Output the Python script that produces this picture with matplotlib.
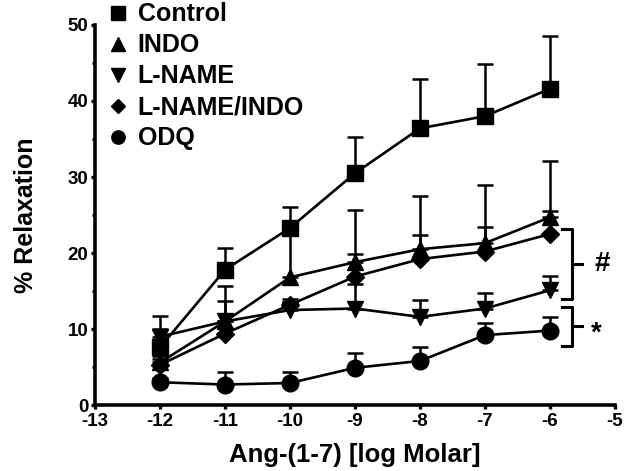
import numpy as np
import matplotlib
matplotlib.use("Agg")
import matplotlib.pyplot as plt

plt.rcParams['font.family'] = ['Liberation Sans', 'DejaVu Sans']
plt.rcParams['font.weight'] = 'bold'
plt.rcParams['axes.unicode_minus'] = False

# log molar concentrations
conc = [-12, -11, -10, -9, -8, -7, -6]

# mean % relaxation and upper SEM cap for each group
control = [7.6, 17.8, 23.3, 30.5, 36.4, 38.0, 41.6]
control_top = [11.7, 20.6, 26.0, 35.2, 42.9, 44.9, 48.6]

indo = [5.6, 11.0, 16.8, 18.8, 20.5, 21.3, 24.7]
indo_top = [6.5, 15.6, 23.0, 25.6, 27.5, 29.0, 32.1]

lname = [9.0, 11.0, 12.5, 12.7, 11.6, 12.7, 15.1]
lname_top = [10.0, 13.7, 13.5, 15.9, 13.8, 14.7, 17.0]

lname_indo = [5.3, 9.4, 13.2, 16.9, 19.2, 20.2, 22.5]
lname_indo_top = [6.0, 10.2, 14.0, 19.9, 22.4, 23.4, 25.5]

odq = [3.0, 2.7, 2.9, 4.9, 5.8, 9.2, 9.8]
odq_top = [3.5, 4.3, 4.3, 6.9, 7.6, 10.8, 11.6]

series = [
    ("Control", control, control_top, "s"),
    ("INDO", indo, indo_top, "^"),
    ("L-NAME", lname, lname_top, "v"),
    ("L-NAME/INDO", lname_indo, lname_indo_top, "D"),
    ("ODQ", odq, odq_top, "o"),
]
msizes = {"s": 12, "^": 12, "v": 12, "D": 9, "o": 12}

fig = plt.figure(figsize=(6.3, 4.71), dpi=100)
ax = fig.add_axes([0.151, 0.140, 0.825, 0.807])

handles = []
for name, mean, top, mk in series:
    mean = np.array(mean)
    up = np.array(top) - mean
    ax.errorbar(conc, mean, yerr=[np.zeros_like(up), up], color='black',
                marker=mk, markersize=msizes[mk], linewidth=1.9,
                elinewidth=1.8, capsize=6, capthick=1.8)
    # legend shows the marker only
    handles.append(ax.plot([], [], linestyle='none', marker=mk, color='black',
                           markersize=msizes[mk] * 0.8)[0])

# significance brackets (y range in % relaxation)
hash_span = [13.9, 23.1]
star_span = [7.8, 12.9]
bx = -5.66
for (lo, hi), sym, sx, dy in [(hash_span, "#", -5.2, 0),
                              (star_span, "*", -5.28, -1.0)]:
    mid = (lo + hi) / 2
    ax.plot([bx - 0.16, bx, bx, bx - 0.16], [hi, hi, lo, lo], color='black',
            lw=2.2, clip_on=False, solid_joinstyle='round')
    ax.plot([bx, bx + 0.15], [mid, mid], color='black', lw=2.2, clip_on=False)
    ax.text(sx, mid + dy, sym, fontsize=20, fontweight='bold',
            ha='center', va='center')

ax.set_xlim(-13, -5)
ax.set_ylim(0, 50)
ax.set_xticks(range(-13, -4))
ax.set_yticks(range(0, 51, 10))
ax.set_yticks(range(5, 50, 10), minor=True)
ax.spines['top'].set_visible(False)
ax.spines['right'].set_visible(False)
ax.spines['left'].set_linewidth(2.6)
ax.spines['bottom'].set_linewidth(2.6)
ax.tick_params(axis='both', which='major', width=2.4, length=3, pad=2,
               labelsize=13.5)
ax.tick_params(axis='x', pad=3)
ax.tick_params(axis='y', which='minor', width=2, length=2.5)
for lab in ax.get_xticklabels() + ax.get_yticklabels():
    lab.set_fontweight('bold')

ax.set_xlabel("Ang-(1-7) [log Molar]", fontsize=18.5, fontweight='bold',
              labelpad=9)
ax.set_ylabel("% Relaxation", fontsize=18, fontweight='bold', labelpad=21)

labels = [s[0] for s in series]
fig.legend(handles, labels, loc='upper left', bbox_to_anchor=(0.171, 0.995),
           frameon=False, prop={'size': 18, 'weight': 'bold'},
           handlelength=0.8, handletextpad=0.4, labelspacing=0.28,
           borderaxespad=0, borderpad=0)

fig.savefig("out.png", dpi=100)
